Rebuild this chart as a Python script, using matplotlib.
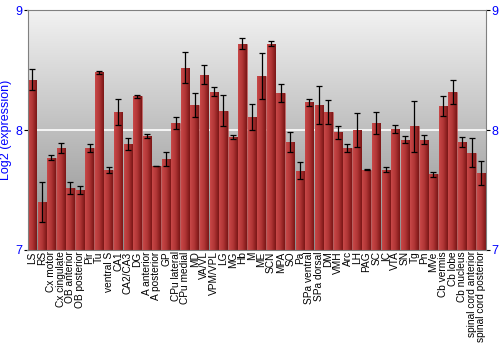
import matplotlib
matplotlib.use("Agg")
import matplotlib.pyplot as plt
import numpy as np

plt.rcParams['font.family'] = ['Liberation Sans', 'DejaVu Sans']

# regions, expression values and errors
regions = ['LS', 'RS', 'Cx motor', 'Cx cingulate', 'OB anterior', 'OB posterior', 'Pir', 'Tu',
           'ventral S', 'CA1', 'CA2/CA3', 'DG', 'A anterior', 'A posterior', 'GP', 'CPu lateral',
           'CPu medial', 'MD', 'VA/VL', 'VPM/VPL', 'LG', 'MG', 'Hb', 'M', 'ME', 'SCN', 'MPA', 'SO',
           'Pa', 'SPa ventral', 'SPa dorsal', 'DM', 'VMH', 'Arc', 'LH', 'PAG', 'SC', 'IC', 'VTA',
           'SN', 'Tg', 'Pn', 'MVe', 'Cb vermis', 'Cb lobe', 'Cb nucleus', 'spinal cord anterior',
           'spinal cord posterior']
values = [8.42, 7.40, 7.77, 7.85, 7.52, 7.50, 7.85, 8.48, 7.67, 8.15, 7.88, 8.28, 7.95, 7.70,
          7.76, 8.06, 8.52, 8.21, 8.46, 8.32, 8.16, 7.94, 8.72, 8.11, 8.45, 8.72, 8.31, 7.90,
          7.66, 8.23, 8.21, 8.15, 7.98, 7.85, 8.00, 7.67, 8.06, 7.67, 8.01, 7.92, 8.03, 7.92,
          7.63, 8.20, 8.32, 7.90, 7.81, 7.64]
errors = [0.09, 0.17, 0.02, 0.045, 0.05, 0.03, 0.035, 0.01, 0.025, 0.11, 0.05, 0.01, 0.02, 0.003,
          0.06, 0.05, 0.13, 0.10, 0.08, 0.04, 0.13, 0.015, 0.045, 0.11, 0.19, 0.02, 0.075, 0.08,
          0.07, 0.03, 0.16, 0.10, 0.055, 0.03, 0.14, 0.005, 0.09, 0.02, 0.035, 0.03, 0.21, 0.035,
          0.02, 0.08, 0.10, 0.04, 0.12, 0.10]

fig = plt.figure(figsize=(5, 3.5), dpi=100)
ax = fig.add_axes([0.055, 0.286, 0.917, 0.685])

x = np.arange(len(regions))
ax.set_xlim(-0.5, len(regions) - 0.5)
ax.set_ylim(7, 9)

# background gradient, light at the top
bg = np.linspace(0, 1, 256).reshape(-1, 1)
ax.imshow(bg, cmap=matplotlib.colors.LinearSegmentedColormap.from_list('bg', ['#f2f2f2', '#8c8c8c']),
          extent=[-0.5, len(regions) - 0.5, 7, 9], aspect='auto', zorder=0)
ax.axhline(8, color='white', lw=1.2, zorder=1)

bars = ax.bar(x, [v - 7 for v in values], bottom=7, width=0.88, color='#a52a2a',
              edgecolor='#c86060', linewidth=0.4, zorder=2)

# horizontal gradient inside each bar
grad = np.linspace(0, 1, 64).reshape(1, -1)
bar_cmap = matplotlib.colors.LinearSegmentedColormap.from_list('bar', ['#c84848', '#b03535', '#7a1616'])
for b in bars:
    im = ax.imshow(grad, cmap=bar_cmap, aspect='auto', zorder=2.5,
                   extent=[b.get_x(), b.get_x() + b.get_width(), 7, 7 + b.get_height()])
    im.set_clip_path(b)

ax.errorbar(x, values, yerr=errors, fmt='none', ecolor='black', elinewidth=0.9,
            capsize=2, capthick=0.9, zorder=3)

ax.set_xticks(x)
ax.set_xticklabels(regions, rotation=90, fontsize=7.3)
ax.tick_params(axis='x', length=0, pad=1)
ax.set_yticks([7, 8, 9])
ax.tick_params(axis='y', labelcolor='blue', labelsize=9, length=3, right=True, labelright=True, pad=1)
ax.set_ylabel('Log2 (expression)', color='blue', fontsize=9, labelpad=2)
for s in ax.spines.values():
    s.set_color('#808080')

fig.savefig('out.png', dpi=100)
